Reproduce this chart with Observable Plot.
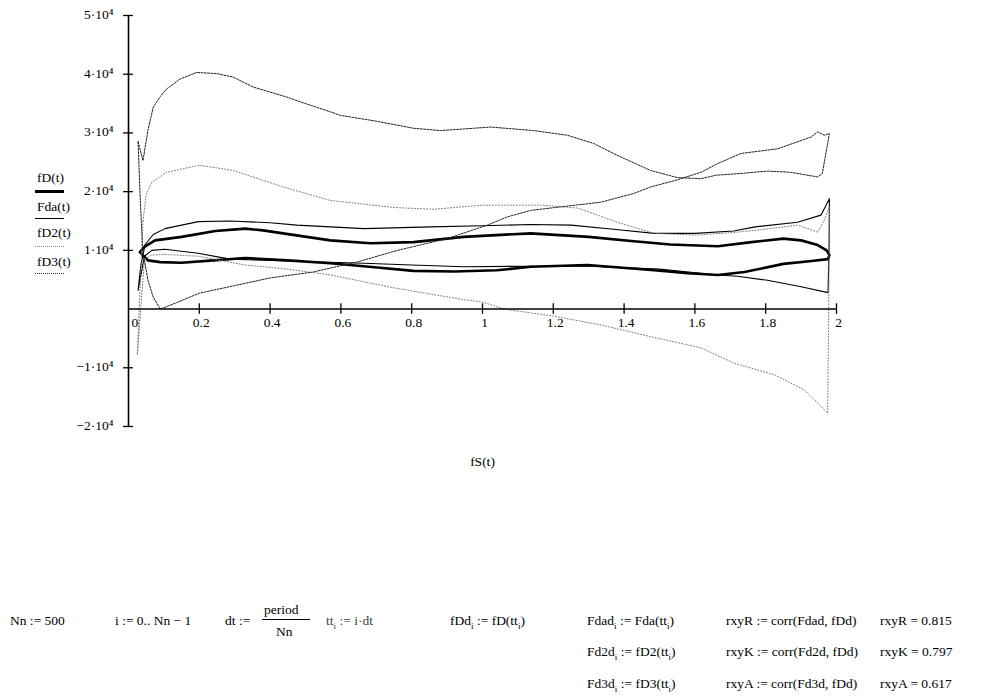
<!DOCTYPE html>
<html><head><meta charset="utf-8">
<script src="https://cdn.jsdelivr.net/npm/d3@7"></script>
<script src="https://cdn.jsdelivr.net/npm/@observablehq/plot@0.6"></script>
<style>
body{margin:0;background:#fff;font-family:"Liberation Serif","DejaVu Serif",serif;color:#000;}
#wrap{position:relative;width:989px;height:696px;overflow:hidden;background:#fff;}
#chart{position:absolute;left:0;top:0;}
#chart svg text{font-family:"Liberation Serif","DejaVu Serif",serif;}
.t{position:absolute;font-size:13.5px;white-space:nowrap;line-height:1;font-family:"Liberation Serif","DejaVu Serif",serif;}
.t sub{font-size:9px;vertical-align:-4px;line-height:0;}
.lg{position:absolute;font-size:13.5px;white-space:nowrap;line-height:1;font-family:"Liberation Serif","DejaVu Serif",serif;}
.ln{position:absolute;width:29px;height:0;}
</style></head><body>
<div id="wrap"><div id="chart"></div><div id="legend"></div><div id="formulas"></div></div>
<script>
// ---- data (x = fS(t), y = force) ----
const fD_S  = [0.032,0.045,0.075,0.15,0.245,0.33,0.38,0.47,0.57,0.683,0.805,0.947,1.136,1.3,1.42,1.53,1.665,1.76,1.85,1.9,1.947,1.972,1.98,1.976,1.93,1.85,1.74,1.665,1.58,1.485,1.297,1.136,1.04,0.92,0.805,0.68,0.57,0.45,0.33,0.24,0.15,0.09,0.055,0.032];
const fD_V  = [9700,10600,11700,12300,13300,13700,13400,12600,11700,11200,11400,12300,12900,12300,11600,11000,10700,11400,12000,11700,10900,10000,9200,8500,8200,7700,6300,5800,6100,6600,7500,7200,6600,6400,6500,7200,7800,8300,8700,8300,7900,8000,8300,9700];
const Fda_S = [0.027,0.035,0.047,0.07,0.103,0.197,0.287,0.4,0.476,0.665,0.853,1.0,1.136,1.25,1.37,1.485,1.6,1.71,1.77,1.89,1.956,1.98,1.979,1.976,1.9,1.805,1.72,1.665,1.5,1.3,1.136,0.947,0.8,0.665,0.45,0.287,0.197,0.103,0.066,0.045,0.027];
const Fda_V = [3200,7500,11000,12700,13700,14900,15000,14700,14300,13700,14000,14200,14400,14300,13600,12900,12900,13300,14000,14800,16000,18800,10000,2800,3800,4900,5600,5800,6800,7300,7300,7200,7500,7800,8200,8500,9500,10200,10000,9000,3200];
const fD2_S = [0.041,0.05,0.066,0.108,0.2,0.296,0.437,0.57,0.645,0.75,0.862,1.0,1.164,1.27,1.38,1.485,1.6,1.7,1.77,1.89,1.947,1.965,1.98,1.978,1.975,1.91,1.825,1.71,1.617,1.475,1.334,1.2,1.06,1.0,0.947,0.76,0.57,0.45,0.33,0.197,0.1,0.066,0.045,0.025,0.033,0.041];
const fD2_V = [15000,19500,21600,23300,24500,23600,20800,18500,18000,17300,17000,17700,17700,17200,14800,12900,12600,13000,13400,14300,13100,15100,17400,0,-17700,-13800,-11200,-9200,-6600,-4700,-2700,-1200,0,1200,1600,3500,5800,6800,7500,9000,9300,9200,8500,-7800,4000,15000];
const fD3_S = [0.027,0.041,0.055,0.07,0.09,0.108,0.146,0.193,0.25,0.296,0.353,0.448,0.485,0.57,0.598,0.7,0.805,0.881,1.023,1.145,1.24,1.314,1.38,1.475,1.55,1.617,1.66,1.73,1.805,1.87,1.947,1.96,1.98,1.965,1.947,1.928,1.834,1.73,1.665,1.617,1.55,1.475,1.428,1.334,1.22,1.136,1.07,1.014,0.9,0.76,0.645,0.52,0.4,0.3,0.2,0.14,0.09,0.07,0.055,0.04,0.033,0.027];
const fD3_V = [28500,25300,30500,34400,36200,37500,39200,40300,40100,39500,37800,36100,35300,33600,33000,32000,30800,30400,31000,30400,29600,28200,26200,23600,22400,22200,22800,23100,23500,23300,22500,23100,29900,29600,30200,29300,27300,26500,24800,23300,22000,20800,19700,18200,17400,16800,15700,14300,12000,10000,8000,6300,5300,4000,2700,1200,0,2000,4900,10000,19000,28500];

const seriesNames = ["fD(t)","Fda(t)","fD2(t)","fD3(t)"];
const xTicks = [0,0.2,0.4,0.6,0.8,1,1.2,1.4,1.6,1.8,2];
const xTickLabels = ["0","0.2","0.4","0.6","0.8","1","1.2","1.4","1.6","1.8","2"];
const yTicks = [-20000,-10000,10000,20000,30000,40000,50000];
const yTickLabels = ["\u22122\u00b710\u2074","\u22121\u00b710\u2074","1\u00b710\u2074","2\u00b710\u2074","3\u00b710\u2074","4\u00b710\u2074","5\u00b710\u2074"];
const xLabel = "fS(t)";
const corrNames = ["rxyR","rxyK","rxyA"];
const corrValues = ["0.815","0.797","0.617"];

// ---- styles ----
const styles = [
  {stroke:"#000", w:2.6, dash:null},
  {stroke:"#000", w:1.1, dash:null},
  {stroke:"#7a7a7a", w:1, dash:"1,2"},
  {stroke:"#222", w:1, dash:"2,1.3"}
];
const xsList = [fD_S, Fda_S, fD2_S, fD3_S];
const ysList = [fD_V, Fda_V, fD2_V, fD3_V];

const lineMarks = xsList.map((xs, k) => {
  const rows = xs.map((x, i) => ({x, y: ysList[k][i], s: seriesNames[k]}));
  const st = styles[k];
  const o = {x:"x", y:"y", stroke: st.stroke, strokeWidth: st.w, curve:"linear", strokeLinejoin:"round"};
  if (st.dash) o.strokeDasharray = st.dash;
  return Plot.line(rows, o);
});

const FONT = "Liberation Serif, DejaVu Serif, serif";
const chart = Plot.plot({
  width: 989, height: 500,
  marginLeft: 128, marginRight: 153, marginTop: 15, marginBottom: 74,
  x: {domain:[0,2], axis:null},
  y: {domain:[-20000,50000], axis:null},
  style: {fontFamily: FONT, fontSize:"13.5px", background:"white", color:"black"},
  marks: [
    ...lineMarks,
    Plot.ruleY([0], {stroke:"#000", strokeWidth:1.5}),
    Plot.ruleX([0], {stroke:"#000", strokeWidth:1.6}),
    Plot.ruleX(xTicks.slice(1), {x:d=>d, y1:-900, y2:900, stroke:"#000", strokeWidth:1.3}),
    Plot.ruleY(yTicks, {y:d=>d, x1:-0.014, x2:0.014, stroke:"#000", strokeWidth:1.3}),
    Plot.text(xTicks.slice(1), {x:d=>d, y:0, text:(d,i)=>xTickLabels[i+1], dy:14, dx:2, fontFamily: FONT}),
    Plot.text([xTickLabels[0]], {x:0, y:0, text:d=>d, dy:14, dx:3, textAnchor:"start", fontFamily: FONT}),
    Plot.text(yTicks, {x:0, y:d=>d, text:(d,i)=>yTickLabels[i], textAnchor:"end", dx:-15, dy:-1, fontFamily: FONT}),
    Plot.text([xLabel], {x:1, y:-20000, text:d=>d, dy:35, fontFamily: FONT})
  ]
});
document.getElementById("chart").appendChild(chart);

// ---- legend (Mathcad style) ----
const lg = document.getElementById("legend");
const lgTextTop = [171, 200, 226, 255];
const lgLineTop = [190, 218, 246, 273];
const lgBorder = ["3px solid #000","1px solid #000","1px dotted #888","1px dotted #333"];
seriesNames.forEach((n,i)=>{
  const t = document.createElement("div"); t.className="lg"; t.textContent=n;
  t.style.left="37px"; t.style.top=lgTextTop[i]+"px"; lg.appendChild(t);
  const l = document.createElement("div"); l.className="ln";
  l.style.left="35px"; l.style.top=lgLineTop[i]+"px"; l.style.borderTop=lgBorder[i]; lg.appendChild(l);
});

// ---- worksheet formulas below the chart ----
const f = document.getElementById("formulas");
function put(html, left, top, extra){ const d=document.createElement("div"); d.className="t"; d.innerHTML=html; d.style.left=left+"px"; d.style.top=top+"px"; if(extra) Object.assign(d.style, extra); f.appendChild(d); }
const r1=614, r2=645, r3=677;
put("Nn := 500", 10, r1);
put("i := 0.. Nn \u2212 1", 115, r1);
put("dt :=", 225, r1);
put("period", 264, 603);
const bar=document.createElement("div"); bar.style.cssText="position:absolute;left:262px;top:619px;width:48px;border-top:1px solid #000;"; f.appendChild(bar);
put("Nn", 276, 625);
put("tt<sub>i</sub> := i\u00b7dt", 326, r1, {color:"#444"});
put("fDd<sub>i</sub> := fD(tt<sub>i</sub>)", 450, r1);
const defs = ["Fdad<sub>i</sub> := Fda(tt<sub>i</sub>)","Fd2d<sub>i</sub> := fD2(tt<sub>i</sub>)","Fd3d<sub>i</sub> := fD3(tt<sub>i</sub>)"];
const corrArgs = ["Fdad, fDd","Fd2d, fDd","Fd3d, fDd"];
[r1,r2,r3].forEach((r,i)=>{
  put(defs[i], 587, r);
  put(corrNames[i]+" := corr("+corrArgs[i]+")", 726, r);
  put(corrNames[i]+" = "+corrValues[i], 880, r);
});
</script>
</body></html>
